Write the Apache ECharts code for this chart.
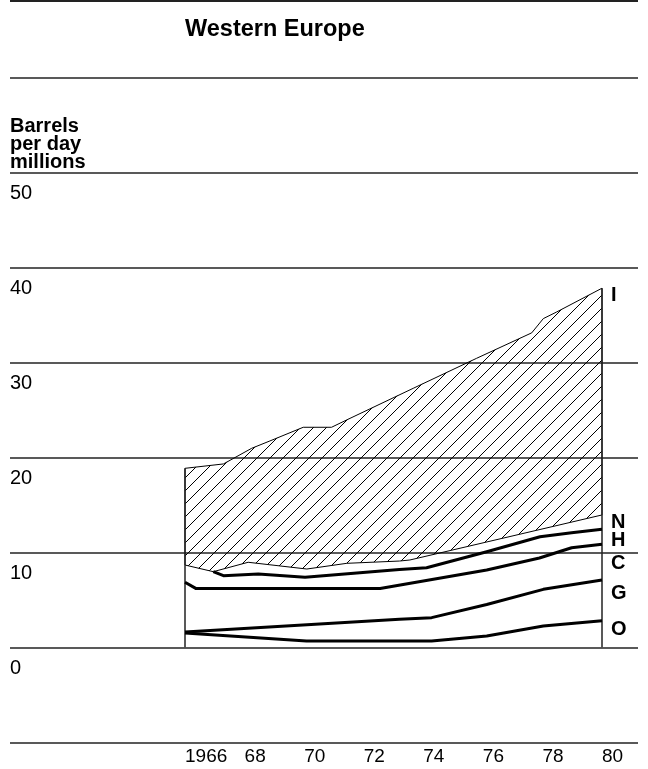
<!DOCTYPE html>
<html><head><meta charset="utf-8">
<script src="https://cdn.jsdelivr.net/npm/echarts@6/dist/echarts.min.js"></script>
<style>html,body{margin:0;padding:0;background:#fff}#c{width:648px;height:769px}</style>
</head><body><div id="c"></div>
<script>
// ---- data (million barrels per day, cumulative boundary of each band) ----
const yearTickLabels = ['1966', '68', '70', '72', '74', '76', '78', '80'];
const valueTickLabels = ['0', '10', '20', '30', '40', '50'];
const bandNames = ['I', 'N', 'H', 'C', 'G', 'O'];
// top of I (imports) band
const topI = [[1966, 18.84], [1967.29, 19.3], [1968.24, 20.95], [1968.85, 21.72], [1969.97, 23.16], [1970.92, 23.16], [1971.54, 24.1], [1973.66, 27.26], [1975.79, 30.42], [1977.64, 33.1], [1978.03, 34.6], [1978.48, 35.3], [1980, 37.8]];
// top of N band (bottom of hatched area)
const topN = [[1966, 8.66], [1966.95, 7.96], [1968.12, 8.95], [1970.09, 8.24], [1971.43, 8.84], [1973.2, 9.08], [1973.55, 9.19], [1980, 13.93]];
// top of H band
const topH = [[1966.95, 7.96], [1967.29, 7.54], [1968.46, 7.72], [1970.03, 7.37], [1973.2, 8.2], [1974.11, 8.38], [1976.13, 10.06], [1977.92, 11.64], [1978.98, 12.06], [1980, 12.42]];
// top of C band
const topC = [[1966, 6.85], [1966.36, 6.2], [1972.55, 6.2], [1976.13, 8.14], [1977.9, 9.4], [1978.98, 10.48], [1980, 10.84]];
// top of G band
const topG = [[1966, 1.6], [1973.2, 2.95], [1974.28, 3.12], [1976.13, 4.5], [1978.03, 6.1], [1980, 7.08]];
// top of O band
const topO = [[1966, 1.5], [1970.08, 0.66], [1974.28, 0.66], [1976.13, 1.19], [1978.03, 2.24], [1980, 2.8]];

// ---- hatch pattern ----
function makeHatch(step) {
  const cv = document.createElement('canvas');
  cv.width = step; cv.height = step;
  const g = cv.getContext('2d');
  g.strokeStyle = '#000';
  g.lineWidth = 1;
  for (const off of [-step, 0, step]) {
    g.beginPath();
    g.moveTo(off - 1, step + 1);
    g.lineTo(off + step + 1, -1);
    g.stroke();
  }
  return cv;
}
const hatch = { image: makeHatch(13), repeat: 'repeat' };

const FONT = '"Liberation Sans", Arial, Helvetica, sans-serif';
const chart = echarts.init(document.getElementById('c'), null, { renderer: 'canvas' });

const lineSeries = (d) => ({
  type: 'line', xAxisIndex: 1, yAxisIndex: 1, data: d,
  symbol: 'none', showSymbol: false, z: 4,
  lineStyle: { color: '#000', width: 3, join: 'round' }
});

const labelTops = [285, 512, 530, 553, 583, 619];

chart.setOption({
  animation: false,
  backgroundColor: '#fff',
  title: [{
    text: 'Western Europe', left: 185, top: 18, padding: 0,
    textStyle: { fontFamily: FONT, fontWeight: 'bold', fontSize: 23.5, color: '#000' }
  }, {
    text: '{b|Barrels}\n{b|per day}\n{r|millions}', left: 10, top: 117, padding: 0,
    textStyle: {
      rich: {
        b: { fontFamily: FONT, fontWeight: 'bold', fontSize: 20, lineHeight: 18, color: '#000' },
        r: { fontFamily: FONT, fontSize: 20, lineHeight: 18, color: '#000' }
      }
    }
  }],
  grid: [
    { left: 10, right: 10, top: 77.3, height: 665, containLabel: false },
    { left: 185, width: 417, top: 77.3, height: 665, containLabel: false }
  ],
  xAxis: [
    { gridIndex: 0, type: 'value', min: 0, max: 1, show: false },
    {
      gridIndex: 1, type: 'value', min: 1966, max: 1980, interval: 2,
      axisLine: { show: false }, axisTick: { show: false }, splitLine: { show: false },
      axisLabel: {
        formatter: (v) => yearTickLabels[Math.round((v - 1966) / 2)],
        align: 'left', verticalAlign: 'top', margin: 5,
        fontFamily: FONT, fontSize: 19, color: '#000'
      }
    }
  ],
  yAxis: [
    {
      gridIndex: 0, type: 'value', min: -10, max: 60, interval: 10,
      axisLine: { show: false }, axisTick: { show: false },
      splitLine: { show: true, lineStyle: { color: '#222', width: 1.5 } },
      axisLabel: {
        inside: true, margin: 0, align: 'left', verticalAlign: 'top',
        padding: [11, 0, 0, 0],
        formatter: (v) => (v >= 0 && v <= 50) ? valueTickLabels[v / 10] : '',
        fontFamily: FONT, fontSize: 20, color: '#000'
      }
    },
    { gridIndex: 1, type: 'value', min: -10, max: 60, show: false }
  ],
  graphic: [
    { type: 'line', shape: { x1: 10, y1: 1, x2: 638, y2: 1 }, style: { stroke: '#222', lineWidth: 2 } }
  ].concat(bandNames.map((n, i) => ({
    type: 'text', left: 611, top: labelTops[i],
    style: { text: n, fontFamily: FONT, fontWeight: 'bold', fontSize: 20, fill: '#000' }
  }))),
  series: [
    {
      type: 'custom', xAxisIndex: 1, yAxisIndex: 1, data: [[1966, 0]], clip: false, z: 2,
      renderItem: (params, api) => {
        const top = topI.map(p => api.coord(p));
        const bot = topN.slice().reverse().map(p => api.coord(p));
        const l0 = api.coord([topI[0][0], topI[0][1]]);
        const l1 = api.coord([topI[0][0], 0]);
        const last = topI[topI.length - 1];
        const r0 = api.coord([last[0], last[1]]);
        const r1 = api.coord([last[0], 0]);
        return {
          type: 'group', children: [
            { type: 'polygon', shape: { points: top.concat(bot) }, style: { fill: hatch, stroke: '#000', lineWidth: 1 } },
            { type: 'line', shape: { x1: l0[0], y1: l0[1], x2: l1[0], y2: l1[1] }, style: { stroke: '#222', lineWidth: 1.5 } },
            { type: 'line', shape: { x1: r0[0], y1: r0[1], x2: r1[0], y2: r1[1] }, style: { stroke: '#222', lineWidth: 1.5 } }
          ]
        };
      }
    },
    lineSeries(topH),
    lineSeries(topC),
    lineSeries(topG),
    lineSeries(topO)
  ]
});
</script>
</body></html>
